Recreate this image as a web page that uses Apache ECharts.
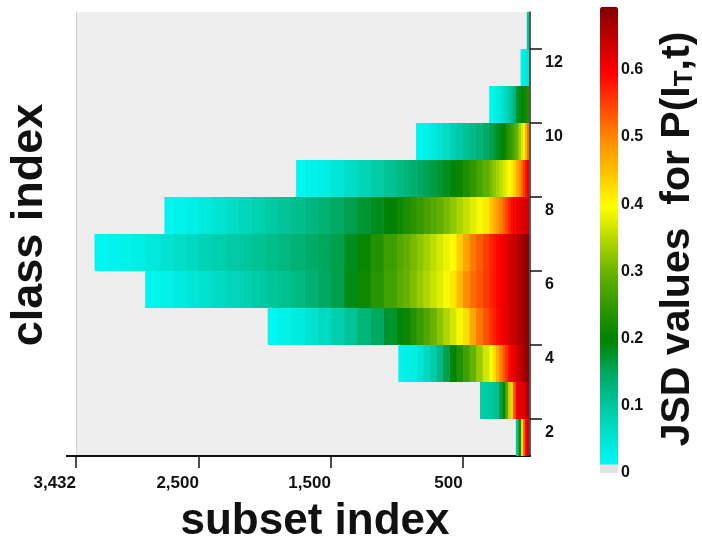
<!DOCTYPE html>
<html><head><meta charset="utf-8">
<script src="https://cdn.jsdelivr.net/npm/echarts@6/dist/echarts.min.js"></script>
<style>html,body{margin:0;padding:0;background:#fff}#c{width:702px;height:548px}</style>
</head><body><div id="c"></div>
<script>
// subset-index bin edges shared by all class rows
const subsetEdges = [0,15,30,45,60,80,100,120,140,160,180,200,225,250,275,300,350,400,450,500,550,600,650,700,750,800,850,900,950,1000,
  1100,1200,1300,1400,1500,1600,1700,1800,1900,2000,2100,2200,2300,2400,2500,2600,2700,2800,2900,3000,3100,3200,3300,3400];
// class rows (lower edge of each row) and number of subsets in each row
const classRows = [1,2,3,4,5,6,7,8,9,10,11,12];
const rowLength = [95,367,986,1976,2905,3289,2759,1761,852,297,59,12];
// JSD values per bin, starting at subset index 0
const jsdClass1  = [0.63,0.60,0.52,0.42,0.22,0.10];
const jsdClass2  = [0.666,0.638,0.626,0.620,0.612,0.604,0.541,0.435,0.350,0.277,0.210,0.163,0.115,0.106,0.101,0.093,0.087];
const jsdClass3  = [0.685,0.676,0.666,0.656,0.645,0.632,0.619,0.606,0.587,0.561,0.534,0.505,0.465,0.424,0.393,0.366,0.331,0.297,0.264,0.231,
  0.198,0.159,0.120,0.089,0.068,0.046,0.032,0.027,0.021];
const jsdClass4  = [0.687,0.681,0.674,0.668,0.661,0.652,0.644,0.636,0.627,0.619,0.611,0.601,0.588,0.574,0.559,0.538,0.510,0.471,0.426,
  0.390,0.367,0.344,0.321,0.298,0.276,0.255,0.233,0.211,0.194,0.175,0.150,0.129,0.107,0.086,0.067,0.052,0.037,0.024,0.017];
const jsdClass5  = [0.687,0.681,0.674,0.668,0.661,0.652,0.644,0.636,0.627,0.619,0.611,0.601,0.591,0.581,0.571,0.556,0.536,0.516,0.493,0.454,
  0.416,0.391,0.375,0.360,0.345,0.329,0.314,0.299,0.286,0.266,0.239,0.213,0.187,0.160,0.147,0.134,0.121,0.110,0.102,0.093,0.084,0.075,
  0.065,0.055,0.044,0.034,0.024,0.018,0.015];
const jsdClass6  = [0.687,0.681,0.674,0.668,0.661,0.652,0.644,0.636,0.627,0.619,0.611,0.601,0.591,0.580,0.569,0.552,0.530,0.508,0.475,0.436,
  0.399,0.384,0.369,0.353,0.338,0.323,0.308,0.293,0.280,0.260,0.234,0.207,0.183,0.160,0.151,0.142,0.133,0.124,0.115,0.108,0.100,0.093,
  0.086,0.079,0.070,0.061,0.051,0.041,0.032,0.026,0.021,0.017];
const jsdClass7  = [0.637,0.632,0.627,0.622,0.616,0.609,0.602,0.587,0.567,0.546,0.526,0.504,0.483,0.464,0.445,0.416,0.390,0.374,0.357,0.341,
  0.325,0.308,0.293,0.280,0.267,0.254,0.240,0.227,0.214,0.197,0.184,0.172,0.159,0.146,0.135,0.125,0.115,0.105,0.095,0.084,0.073,0.061,
  0.049,0.037,0.028,0.022,0.016];
const jsdClass8  = [0.610,0.583,0.553,0.523,0.492,0.466,0.439,0.413,0.394,0.381,0.369,0.355,0.339,0.323,0.308,0.290,0.269,0.248,0.228,0.207,
  0.194,0.184,0.174,0.165,0.155,0.146,0.138,0.129,0.121,0.108,0.092,0.077,0.062,0.046,0.031,0.023,0.016];
const jsdClass9  = [0.513,0.457,0.405,0.373,0.338,0.299,0.279,0.260,0.240,0.221,0.201,0.190,0.179,0.167,0.156,0.144,0.131,0.119,0.106,
  0.093,0.079,0.064,0.050,0.036,0.026,0.019,0.015];
const jsdClass10 = [0.225,0.217,0.207,0.197,0.183,0.170,0.130,0.108,0.092,0.076,0.061,0.043,0.033,0.026,0.018];
const jsdClass11 = [0.05,0.04,0.03,0.025];
const jsdClass12 = [0.10];

const xTickValues = [3432,2500,1500,500];
const yTickValues = [2,4,6,8,10,12];
const colorbarTicks = [0,0.1,0.2,0.3,0.4,0.5,0.6];
const colorbarMax = 0.694;

const rows = [jsdClass1,jsdClass2,jsdClass3,jsdClass4,jsdClass5,jsdClass6,jsdClass7,jsdClass8,jsdClass9,jsdClass10,jsdClass11,jsdClass12];
const cells = [];
rows.forEach((vals, k) => {
  vals.forEach((v, i) => {
    const a = subsetEdges[i], b = Math.min(subsetEdges[i + 1], rowLength[k]);
    if (b > a) cells.push([a, b, classRows[k], v]);
  });
});

const FONT = 'Liberation Sans';
const chart = echarts.init(document.getElementById('c'), null, {renderer: 'canvas'});
chart.setOption({
  animation: false,
  backgroundColor: '#ffffff',
  grid: [
    {left: 76, top: 12, width: 454, height: 444, show: true, backgroundColor: '#eeeeee', borderWidth: 0},
    {left: 600, top: 6.7, width: 18, height: 466.3, show: false}
  ],
  xAxis: [
    {gridIndex: 0, type: 'value', inverse: true, min: -10, max: 3432,
     axisLine: {show: true, onZero: false, lineStyle: {color: '#111', width: 2}},
     axisTick: {show: true, customValues: xTickValues, length: 12, lineStyle: {color: '#111', width: 1.5}},
     axisLabel: {customValues: xTickValues, align: 'right', margin: 19, fontFamily: FONT, fontWeight: 'bold', fontSize: 17, color: '#111',
       formatter: v => Number(v).toLocaleString('en-US')},
     splitLine: {show: false}},
    {gridIndex: 1, type: 'value', show: false, min: 0, max: 1}
  ],
  yAxis: [
    {gridIndex: 0, type: 'value', position: 'right', min: 1, max: 13,
     axisLine: {show: true, onZero: false, lineStyle: {color: '#222', width: 1.5}},
     axisTick: {show: true, customValues: yTickValues, length: 12, lineStyle: {color: '#111', width: 1.5}},
     axisLabel: {customValues: yTickValues, verticalAlign: 'top', padding: [6, 0, 0, 0], margin: 15, fontFamily: FONT, fontWeight: 'bold', fontSize: 16, color: '#111'},
     splitLine: {show: false}},
    {gridIndex: 0, type: 'value', position: 'left', min: 1, max: 13,
     axisLine: {show: true, onZero: false, lineStyle: {color: '#d2d2d2', width: 1}},
     axisTick: {show: false}, axisLabel: {show: false}, splitLine: {show: false}},
    {gridIndex: 1, type: 'value', position: 'right', min: 0, max: colorbarMax,
     axisLine: {show: false}, axisTick: {show: false}, splitLine: {show: false},
     axisLabel: {customValues: colorbarTicks, margin: 3, fontFamily: FONT, fontWeight: 'bold', fontSize: 16, color: '#111',
       formatter: v => (v === 0 ? '0' : Number(v).toFixed(1))}}
  ],
  visualMap: {
    type: 'continuous', min: 0, max: colorbarMax, dimension: 3, seriesIndex: 0,
    calculable: false, text: null, showLabel: false,
    left: 600, top: 6.7, itemWidth: 18, itemHeight: 466.3, padding: 0,
    inRange: {color: ['#00ffff','#00e4d4','#00c8a0','#00a860','#008200','#309800','#66b200','#b4d800','#ffff00','#ffc400','#ff8c00','#ff4600','#ff0000','#c40000','#820000']}
  },
  series: [{
    type: 'custom', xAxisIndex: 0, yAxisIndex: 0, clip: true,
    encode: {x: [0, 1], y: 2},
    data: cells,
    renderItem: (params, api) => {
      const p = api.coord([api.value(0), api.value(2) + 1]);
      const q = api.coord([api.value(1), api.value(2)]);
      const x = Math.min(p[0], q[0]), w = Math.abs(p[0] - q[0]);
      return {type: 'rect', shape: {x: x - 0.3, y: p[1], width: w + 0.6, height: q[1] - p[1]},
        style: {fill: api.visual('color')}};
    }
  }],
  graphic: [
    {type: 'rect', z: 100, shape: {x: 600, y: 464.5, width: 18, height: 8.5}, style: {fill: '#e4e4e4'}},
    {type: 'line', z: 100, shape: {x1: 66, y1: 456, x2: 77, y2: 456}, style: {stroke: '#111', lineWidth: 2}},
    {type: 'text', x: 315, y: 522, style: {text: 'subset index', fontFamily: FONT, fontWeight: 'bold', fontSize: 44, fill: '#111', textAlign: 'center', textVerticalAlign: 'middle'}},
    {type: 'text', x: 30, y: 225, rotation: Math.PI / 2, style: {text: 'class index', fontFamily: FONT, fontWeight: 'bold', fontSize: 45, fill: '#111', textAlign: 'center', textVerticalAlign: 'middle'}},
    {type: 'text', x: 678, y: 239, rotation: Math.PI / 2, style: {
      text: 'JSD values  for P(I{sub|T},t)', fontFamily: FONT, fontWeight: 'bold', fontSize: 41, fill: '#111',
      textAlign: 'center', textVerticalAlign: 'middle',
      rich: {sub: {fontFamily: FONT, fontWeight: 'bold', fontSize: 26, fill: '#111', padding: [14, 0, 0, 0]}}
    }}
  ]
});
</script></body></html>
